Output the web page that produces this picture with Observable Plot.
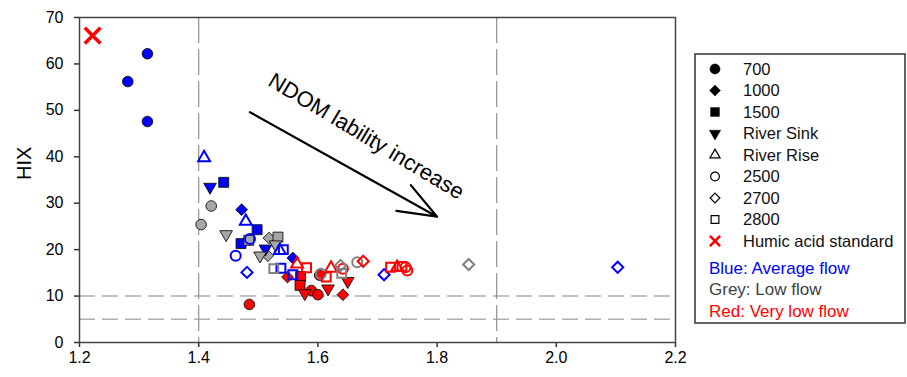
<!DOCTYPE html>
<html><head><meta charset="utf-8">
<script src="https://cdn.jsdelivr.net/npm/d3@7"></script>
<script src="https://cdn.jsdelivr.net/npm/@observablehq/plot@0.6"></script>
<style>body{margin:0;background:#fff}</style>
</head><body><div id="chart"></div>
<script>
// Data: [flow condition, FI (x), HIX (y)]
const site700 = [["average",1.314,62.2],["average",1.281,56.2],["average",1.314,47.6],["low",1.421,29.4],["low",1.404,25.4],["veryLow",1.485,8.2],["veryLow",1.589,11.2],["veryLow",1.600,10.3],["veryLow",1.603,14.5]];
const site1000 = [["average",1.472,28.6],["average",1.558,18.2],["low",1.518,22.5],["low",1.516,18.7],["veryLow",1.549,14.1],["veryLow",1.642,10.3]];
const site1500 = [["average",1.442,34.5],["average",1.498,24.3],["average",1.471,21.3],["low",1.484,22.0],["low",1.533,22.7],["veryLow",1.571,14.2],["veryLow",1.570,12.3]];
const siteRiverSink = [["average",1.419,33.5],["average",1.512,20.2],["low",1.446,23.3],["low",1.529,21.1],["low",1.503,18.7],["veryLow",1.578,10.6],["veryLow",1.617,11.6],["veryLow",1.650,13.2]];
const siteRiverRise = [["average",1.409,39.8],["average",1.479,26.1],["average",1.536,19.8],["veryLow",1.565,16.9],["veryLow",1.622,16.0],["veryLow",1.733,16.2]];
const site2500 = [["average",1.486,22.3],["average",1.462,18.7],["low",1.605,14.8],["low",1.666,17.3],["veryLow",1.642,15.9],["veryLow",1.750,15.5],["veryLow",1.747,16.2]];
const site2700 = [["average",1.481,15.1],["average",1.711,14.6],["average",2.103,16.2],["low",1.638,16.6],["low",1.853,16.8],["veryLow",1.676,17.5]];
const site2800 = [["average",1.542,20.0],["average",1.538,16.0],["average",1.558,14.6],["low",1.526,15.9],["low",1.640,14.9],["veryLow",1.581,16.1],["veryLow",1.614,14.1],["veryLow",1.722,16.2],["veryLow",1.741,16.4]];
const humicAcid = [[1.222,66.1]];

const xTicks = [1.2,1.4,1.6,1.8,2.0,2.2];
const yTicks = [0,10,20,30,40,50,60,70];
const guideX = [1.4,1.9];
const guideY = [5,10];
const siteNames = ["700","1000","1500","River Sink","River Rise","2500","2700","2800","Humic acid standard"];
const flowLabels = ["Blue: Average flow","Grey: Low flow","Red: Very low flow"];
const annotationText = "NDOM lability increase";
const arrowFrom = [1.486,49.6];
const arrowTo = [1.800,27.1];
const annotationAt = [1.681,44.4];

const fillColor = {average:"#0000ff", low:"#a6a6a6", veryLow:"#ff0000"};
const strokeColor = {average:"#0000ff", low:"#808080", veryLow:"#ff0000"};
const flowTextColor = ["#0000ff","#404040","#ff0000"];

const triangleDown = {draw(context, size){
  const s3 = Math.sqrt(3);
  const y = -Math.sqrt(size/(s3*3));
  context.moveTo(0, -y*2);
  context.lineTo(-s3*y, y);
  context.lineTo(s3*y, y);
  context.closePath();
}};

const sites = [
  {data:site700, symbol:"circle", filled:true, r:5.3, legendType:d3.symbolCircle, legendSize:80},
  {data:site1000, symbol:"diamond2", filled:true, r:5.3, legendType:d3.symbolDiamond2, legendSize:75},
  {data:site1500, symbol:"square", filled:true, r:5.6, legendType:d3.symbolSquare, legendSize:78},
  {data:siteRiverSink, symbol:triangleDown, filled:true, r:4.7, legendType:triangleDown, legendSize:55},
  {data:siteRiverRise, symbol:"triangle", filled:false, r:4.4, legendType:d3.symbolTriangle, legendSize:45},
  {data:site2500, symbol:"circle", filled:false, r:5.0, legendType:d3.symbolCircle, legendSize:60},
  {data:site2700, symbol:"diamond2", filled:false, r:5.0, legendType:d3.symbolDiamond2, legendSize:60},
  {data:site2800, symbol:"square", filled:false, r:5.0, legendType:d3.symbolSquare, legendSize:60}
];

const dotMarks = sites.map(s => Plot.dot(s.data, {
  x: d => d[1], y: d => d[2], symbol: s.symbol, r: s.r,
  fill: s.filled ? d => fillColor[d[0]] : "none",
  stroke: s.filled ? "#111" : d => strokeColor[d[0]],
  strokeWidth: s.filled ? 0.9 : 2
}));

const chart = Plot.plot({
  width: 907, height: 377,
  marginLeft: 79, marginRight: 232, marginTop: 17, marginBottom: 35,
  style: {fontFamily: "'Liberation Sans', Arial, sans-serif", fontSize: "16px", background: "#fff", color: "#000"},
  x: {domain: [1.2, 2.2]},
  y: {domain: [0, 70]},
  color: {type: "identity"},
  marks: [
    Plot.ruleY(guideY, {stroke: "#b0b0b0", strokeWidth: 1.5, strokeDasharray: "16,7"}),
    Plot.ruleX(guideX, {stroke: "#909090", strokeWidth: 1.2, strokeDasharray: "26,6"}),
    Plot.axisX(xTicks, {tickFormat: d3.format(".1f"), tickSize: 5, tickPadding: 4, fontSize: 16, stroke: "#333", strokeWidth: 1.5, label: null}),
    Plot.axisY(yTicks, {tickSize: 5, tickPadding: 11, fontSize: 16, stroke: "#333", strokeWidth: 1.5, label: null}),
    Plot.frame({stroke: "#444", strokeWidth: 1.5}),
    Plot.text(["HIX"], {frameAnchor: "left", dx: -55, rotate: -90, fontSize: 20, fill: "#000"}),
    ...dotMarks,
    Plot.dot(humicAcid, {x: d => d[0], y: d => d[1], symbol: "times", r: 7.2, stroke: "#ff0000", strokeWidth: 3.5}),
    Plot.arrow([{a: arrowFrom, b: arrowTo}], {x1: d => d.a[0], y1: d => d.a[1], x2: d => d.b[0], y2: d => d.b[1], stroke: "#000", strokeWidth: 2.2, headLength: 28, headAngle: 42}),
    Plot.text([annotationText], {x: annotationAt[0], y: annotationAt[1], rotate: 31, fontSize: 22, fill: "#000"})
  ]
});
document.getElementById("chart").appendChild(chart);

// Legend
const svg = d3.select(chart);
const lg = svg.append("g").attr("font-family", "'Liberation Sans', Arial, sans-serif").attr("text-anchor", "start");
lg.append("rect").attr("x", 695).attr("y", 54).attr("width", 210).attr("height", 269)
  .attr("fill", "#fff").attr("stroke", "#333").attr("stroke-width", 1.5);
const rowY = i => 69 + i * 21.5;
siteNames.forEach((name, i) => {
  const y = rowY(i);
  if (i < sites.length) {
    const s = sites[i];
    lg.append("path").attr("transform", `translate(715,${y})`)
      .attr("d", d3.symbol().type(s.legendType).size(s.legendSize)())
      .attr("fill", s.filled ? "#000" : "none")
      .attr("stroke", "#000").attr("stroke-width", s.filled ? 0.5 : 1.2);
  } else {
    lg.append("path").attr("transform", `translate(715,${y})`)
      .attr("d", d3.symbol().type(d3.symbolTimes).size(70)())
      .attr("fill", "none").attr("stroke", "#ff0000").attr("stroke-width", 2.6);
  }
  lg.append("text").attr("x", 743).attr("y", y).attr("dy", "0.36em").attr("text-anchor", "start")
    .attr("font-size", 16.5).attr("fill", "#111").text(name);
});
flowLabels.forEach((t, i) => {
  lg.append("text").attr("x", 709).attr("y", 268 + i * 21.3).attr("dy", "0.36em").attr("text-anchor", "start")
    .attr("font-size", 17).attr("fill", flowTextColor[i]).text(t);
});
</script>
</body></html>
